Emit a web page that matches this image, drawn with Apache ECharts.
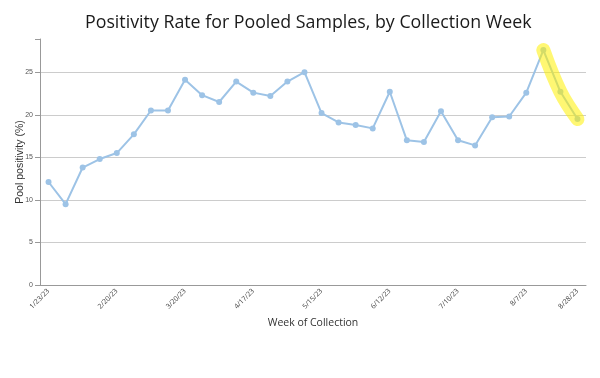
<!DOCTYPE html>
<html><head><meta charset="utf-8">
<script src="https://cdn.jsdelivr.net/npm/echarts@6/dist/echarts.min.js"></script>
<style>html,body{margin:0;padding:0;background:#fff}#c{width:600px;height:378px}</style>
</head><body><div id="c"></div>
<script>
const titleText = 'Positivity Rate for Pooled Samples, by Collection Week';
const weeks = ['1/23/23','1/30/23','2/6/23','2/13/23','2/20/23','2/27/23','3/6/23','3/13/23','3/20/23','3/27/23','4/3/23','4/10/23','4/17/23','4/24/23','5/1/23','5/8/23','5/15/23','5/22/23','5/29/23','6/5/23','6/12/23','6/19/23','6/26/23','7/3/23','7/10/23','7/17/23','7/24/23','7/31/23','8/7/23','8/14/23','8/21/23','8/28/23'];
const positivity = [12.1,9.5,13.8,14.8,15.5,17.7,20.5,20.5,24.1,22.3,21.5,23.9,22.6,22.2,23.9,25.0,20.2,19.1,18.8,18.4,22.7,17.0,16.8,20.4,17.0,16.4,19.7,19.8,22.6,27.6,22.7,19.5];
const highlightFrom = 29;
const yTicks = [0,5,10,15,20,25];
const highlight = positivity.map((v,i)=> i>=highlightFrom ? v : null);
const labelIdx = (i)=> i%4===0 || i===weeks.length-1;
const chart = echarts.init(document.getElementById('c'));
chart.setOption({
  animation:false,
  title:{text:titleText,left:80,top:9,textStyle:{fontFamily:'Open Sans',fontSize:17.8,fontWeight:'normal',color:'#1a1a1a'}},
  grid:{left:40,right:14,top:39,bottom:93,containLabel:false,outerBoundsMode:'none'},
  xAxis:{type:'category',data:weeks,boundaryGap:true,
    name:'Week of Collection',nameLocation:'middle',nameGap:23,
    nameTextStyle:{fontFamily:'Open Sans',fontSize:10.5,color:'#333'},
    axisLine:{lineStyle:{color:'#999'}},
    axisTick:{interval:labelIdx,alignWithLabel:true,length:3,lineStyle:{color:'#999'}},
    axisLabel:{interval:labelIdx,rotate:45,fontSize:7,color:'#444',fontFamily:'Open Sans',margin:5},
    splitLine:{show:false}},
  yAxis:{type:'value',min:0,max:28.9,interval:5,
    name:'Pool positivity (%)',nameLocation:'middle',nameGap:14,nameMoveOverlap:false,
    nameTextStyle:{fontFamily:'Liberation Sans',fontSize:10.5,color:'#333'},
    axisLine:{show:true,lineStyle:{color:'#999'}},
    axisTick:{show:true,length:5,lineStyle:{color:'#999'}},
    axisLabel:{fontSize:7,color:'#555',fontFamily:'Liberation Sans',margin:7,
      formatter:(v)=> yTicks.includes(v) ? String(v) : ''},
    splitLine:{show:true,lineStyle:{color:['#ccc','#ccc','#ccc','#ccc','#ccc','#ccc','rgba(0,0,0,0)'],width:1}}},
  series:[
    {type:'line',data:positivity,symbol:'circle',symbolSize:6,
      lineStyle:{color:'#9dc3e6',width:2},itemStyle:{color:'#9dc3e6'},z:2},
    {type:'line',data:highlight,symbol:'none',smooth:0.4,connectNulls:false,
      lineStyle:{color:'rgba(255,240,0,0.55)',width:14,cap:'round',join:'round'},z:3,silent:true}
  ]
});
</script></body></html>
